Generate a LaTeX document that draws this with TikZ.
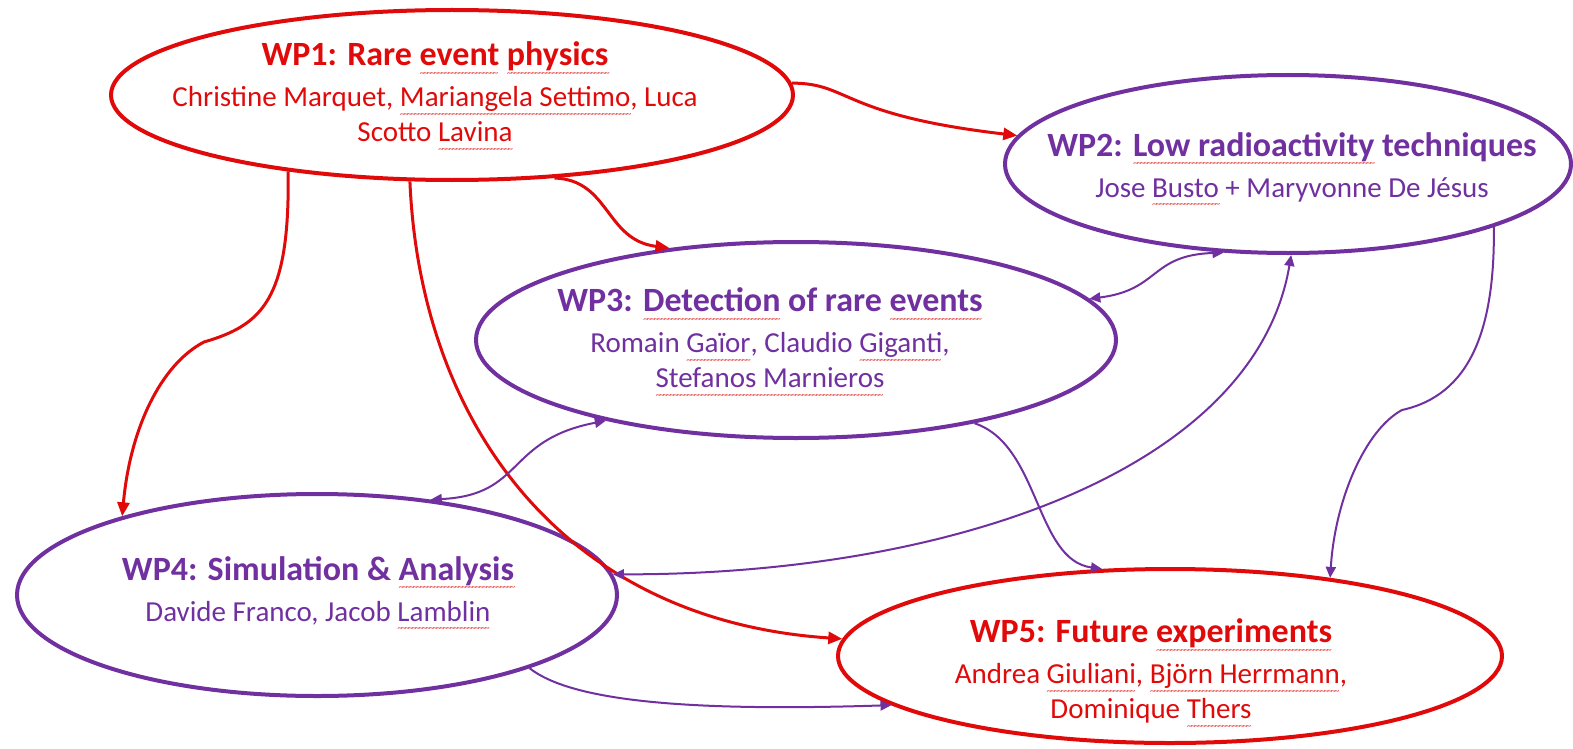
\documentclass[tikz,border=0pt]{standalone}
\usepackage{fontspec}
\setmainfont{Carlito}
\usetikzlibrary{shapes.geometric,arrows.meta}
\definecolor{wpred}{RGB}{225,10,10}
\definecolor{wppurple}{RGB}{112,48,160}
\definecolor{spellred}{RGB}{232,80,80}
\newcommand\wptitle{\fontsize{34}{35}\selectfont\bfseries}
% red wavy spell-check line under a word
\newsavebox\spbox
\newcommand\spchk[1]{\leavevmode\sbox\spbox{#1}\rlap{\lower10.5pt\hbox to\wd\spbox{\color{spellred}\fontsize{11}{11}\selectfont\mdseries\leaders\hbox{\char"7E\kern-2pt}\hfill}}\usebox\spbox}
\begin{document}
\begin{tikzpicture}[x=1pt, y=-1pt,
  wp/.style={ellipse, draw=#1, line width=4pt, inner sep=0pt},
  wptext/.style={text=#1, align=center, font=\fontsize{29}{35}\selectfont, inner sep=0pt},
  redlink/.style={draw=wpred, line width=3pt, -{Triangle[length=14pt,width=12pt]}},
  purplelink/.style={draw=wppurple, line width=2pt, -{Triangle[length=11pt,width=10pt]}},
  twoway/.style={purplelink, {Triangle[length=11pt,width=10pt]}-{Triangle[length=11pt,width=10pt]}}]
  \useasboundingbox (0,0) rectangle (1573,749);
  % work packages
  \node[wp=wpred, minimum width=682pt, minimum height=170pt] (wp1) at (452,95) {};
  \node[wp=wppurple, minimum width=566pt, minimum height=178pt] (wp2) at (1288,164) {};
  \node[wp=wppurple, minimum width=640pt, minimum height=196pt] (wp3) at (796,340) {};
  \node[wp=wppurple, minimum width=600pt, minimum height=202pt] (wp4) at (317,595) {};
  \node[wp=wpred, minimum width=664pt, minimum height=174pt] (wp5) at (1170,656) {};
  \node[wptext=wpred] (wp1txt) at (435,97)
    {{\wptitle WP1: Rare \spchk{event} \spchk{physics}}\\[6pt]
     Christine Marquet, \spchk{Mariangela Settimo}, Luca\\Scotto \spchk{Lavina}};
  \node[wptext=wppurple] (wp2txt) at (1292,170)
    {{\wptitle WP2: \spchk{Low radioactivity} techniques}\\[6pt]
     Jose \spchk{Busto} + Maryvonne De Jésus};
  \node[wptext=wppurple] (wp3txt) at (770,343)
    {{\wptitle WP3: \spchk{Detection} of rare \spchk{events}}\\[6pt]
     Romain \spchk{Gaïor}, Claudio \spchk{Giganti},\\\spchk{Stefanos Marnieros}};
  \node[wptext=wppurple] (wp4txt) at (318,594)
    {{\wptitle WP4: Simulation \& \spchk{Analysis}}\\[6pt]
     Davide Franco, Jacob \spchk{Lamblin}};
  \node[wptext=wpred] (wp5txt) at (1151,674)
    {{\wptitle WP5: Future \spchk{experiments}}\\[6pt]
     Andrea \spchk{Giuliani}, \spchk{Björn Herrmann},\\Dominique \spchk{Thers}};
  % links
  \coordinate (kink14) at (204,342);
  \coordinate (kink25) at (1402,410);
  \draw[redlink] (wp1.2) .. controls (850,83) and (840,115) .. (wp2.174);
  \draw[redlink] (wp1.321) .. controls (610,180) and (605,240) .. (wp3.144);
  \draw[redlink] (wp1.205) .. controls (290,300) and (262,325) .. (kink14)
    .. controls (160,365) and (130,430) .. (wp4.158);
  \draw[redlink] (wp1.244) .. controls (420,420) and (560,620) .. (wp5.177);
  \draw[twoway] (wp3.8) .. controls (1160,290) and (1150,255) .. (wp2.234);
  \draw[twoway] (wp4.4) .. controls (950,575) and (1255,470) .. (wp2.272);
  \draw[twoway] (wp4.40) .. controls (525,495) and (505,440) .. (wp3.203);
  \draw[purplelink] (wp3.335) .. controls (1040,445) and (1035,560) .. (wp5.128);
  \draw[purplelink] (wp2.343) .. controls (1495,330) and (1470,395) .. (kink25)
    .. controls (1365,430) and (1335,500) .. (wp5.26);
  \draw[purplelink] (wp4.341) .. controls (570,700) and (680,712) .. (wp5.190);
\end{tikzpicture}
\end{document}
